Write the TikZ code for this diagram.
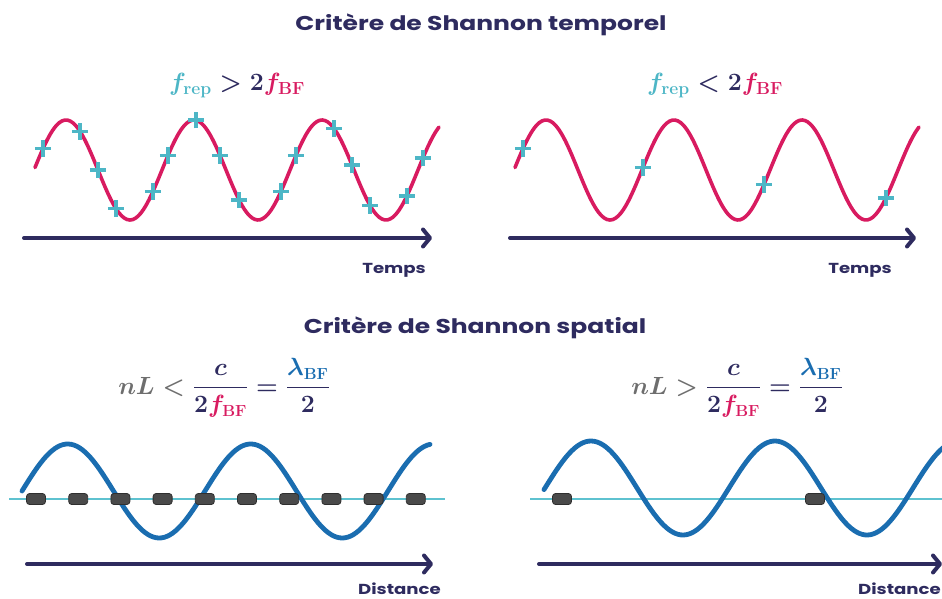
\documentclass[tikz,border=0pt]{standalone}
\usepackage{amsmath}
\usepackage{fontspec}
\setsansfont{Poppins}[FakeStretch=1.25]
\usepackage{tikz}
\usepackage{xcolor}
\usetikzlibrary{
  arrows.meta, calc, positioning, shapes.misc
}
\definecolor{navy}{HTML}{2E2B5F}
\definecolor{signalpink}{HTML}{D81B60}
\definecolor{samplecyan}{HTML}{4DB6C6}
\definecolor{wavelblue}{HTML}{1A6DB0}
\definecolor{formgray}{HTML}{6E6E6E}
\definecolor{sensorgray}{HTML}{4A4A4A}
\definecolor{sensorborder}{HTML}{2F2F2F}
\definecolor{fibercyan}{HTML}{5EC2D0}
\tikzset{
  % Section titles
  sectitle/.style={font=\sffamily\bfseries\fontsize{20}{24}\selectfont, text=navy},
  % Criterion formulas
  formula/.style={font=\fontsize{#1}{28}\selectfont\boldmath, text=navy, inner sep=0pt},
  formula/.default=23,
  % Axis arrows and their labels
  axis/.style={-{Straight Barb[length=7pt, width=17pt, round]}, line width=4pt,
               navy, line cap=round},
  axlabel/.style={font=\sffamily\bfseries\fontsize{14.5}{17}\selectfont, text=navy,
                  inner sep=0pt},
  % Signals
  pinkwave/.style={draw=signalpink, line width=3.6pt, line cap=round},
  bluewave/.style={draw=wavelblue, line width=4.8pt, line cap=round},
  fiber/.style={draw=fibercyan, line width=2.4pt},
  % Samples
  plus/.style={shape=cross out, draw=samplecyan, rotate=45, minimum size=8pt,
               inner sep=0pt, line width=3.6pt},
  sensor/.style={draw=sensorborder, fill=sensorgray, rounded corners=3pt,
                 minimum width=19pt, minimum height=11pt, inner sep=0pt,
                 line width=0.8pt},
}
\newcommand{\subbf}[1]{\textbf{#1}}

\begin{document}
\begin{tikzpicture}[x=1pt, y=-1pt]
  \useasboundingbox (0,0) rectangle (942,599);
  \clip (0,0) rectangle (942,599);

  % Temporal criterion
  \node[sectitle, anchor=base] (ttitle) at (481,31) {Critère de Shannon temporel};
  \node[formula=25, anchor=base] (tformL) at (237,91)
    {${\color{samplecyan}f_{\subbf{rep}}} > 2{\color{signalpink}f_{\subbf{BF}}}$};
  \node[formula=25, anchor=base] (tformR) at (715,91)
    {${\color{samplecyan}f_{\subbf{rep}}} < 2{\color{signalpink}f_{\subbf{BF}}}$};

  \draw[pinkwave] plot[domain=35:439, samples=150, smooth]
    (\x, {170-50*sin(2.8125*(\x-34))});
  \draw[pinkwave] plot[domain=515:919, samples=150, smooth]
    (\x, {170-50*sin(2.8125*(\x-514))});

  \foreach \px [count=\i] in {43,80,98,116,153,168,196,220,239,281,296,334,352,370,407,423}
    \node[plus] (sampL\i) at (\px, {170-50*sin(2.8125*(\px-34))}) {};
  \foreach \px [count=\i] in {523,643,764,886}
    \node[plus] (sampR\i) at (\px, {170-50*sin(2.8125*(\px-514))}) {};

  \coordinate (taxL-w) at (24,238);
  \coordinate (taxL-e) at (432,238);
  \coordinate (taxR-w) at (510,238);
  \coordinate (taxR-e) at (916,238);
  \draw[axis] (taxL-w) -- (taxL-e);
  \draw[axis] (taxR-w) -- (taxR-e);
  \node[axlabel, anchor=base east] (tempsL) at ($(taxL-e)+(-6,35)$) {Temps};
  \node[axlabel, anchor=base east] (tempsR) at ($(taxR-e)+(-24,35)$) {Temps};

  % Spatial criterion
  \node[sectitle, anchor=base] (stitle) at (475,333) {Critère de Shannon spatial};
  \node[formula, anchor=base] (sformL) at (224,394)
    {$\displaystyle{\color{formgray}nL} \mathrel{\color{formgray}<}
      \frac{c}{2{\color{signalpink}f_{\subbf{BF}}}}
      = \frac{{\color{wavelblue}\lambda_{\subbf{BF}}}}{2}$};
  \node[formula, anchor=base] (sformR) at (737,394)
    {$\displaystyle{\color{formgray}nL} \mathrel{\color{formgray}>}
      \frac{c}{2{\color{signalpink}f_{\subbf{BF}}}}
      = \frac{{\color{wavelblue}\lambda_{\subbf{BF}}}}{2}$};

  \coordinate (fibL-w) at (9,499);
  \coordinate (fibL-e) at (445,499);
  \coordinate (fibR-w) at (530,499);
  \coordinate (fibR-e) at (950,499);
  \draw[fiber] (fibL-w) -- (fibL-e);
  \draw[fiber] (fibR-w) -- (fibR-e);

  \draw[bluewave] plot[domain=22:430, samples=150, smooth]
    (\x, {491-47*sin(1.96721*(\x-22))});
  \draw[bluewave] plot[domain=544:960, samples=150, smooth]
    (\x, {488-47*sin(1.95652*(\x-545))});

  \foreach \i in {0,...,9}
    \node[sensor] (sensL\i) at ({36+42.2*\i},499) {};
  \node[sensor] (sensR1) at (562,499) {};
  \node[sensor] (sensR2) at (815,499) {};

  \coordinate (daxL-w) at (27,564);
  \coordinate (daxL-e) at (433,564);
  \coordinate (daxR-w) at (539,564);
  \coordinate (daxR-e) at (942,564);
  \draw[axis] (daxL-w) -- (daxL-e);
  \draw[axis] (daxR-w) -- (daxR-e);
  \node[axlabel, anchor=base east] (distL) at ($(daxL-e)+(8,30)$) {Distance};
  \node[axlabel, anchor=base east] (distR) at ($(daxR-e)+(-1,30)$) {Distance};
\end{tikzpicture}
\end{document}
